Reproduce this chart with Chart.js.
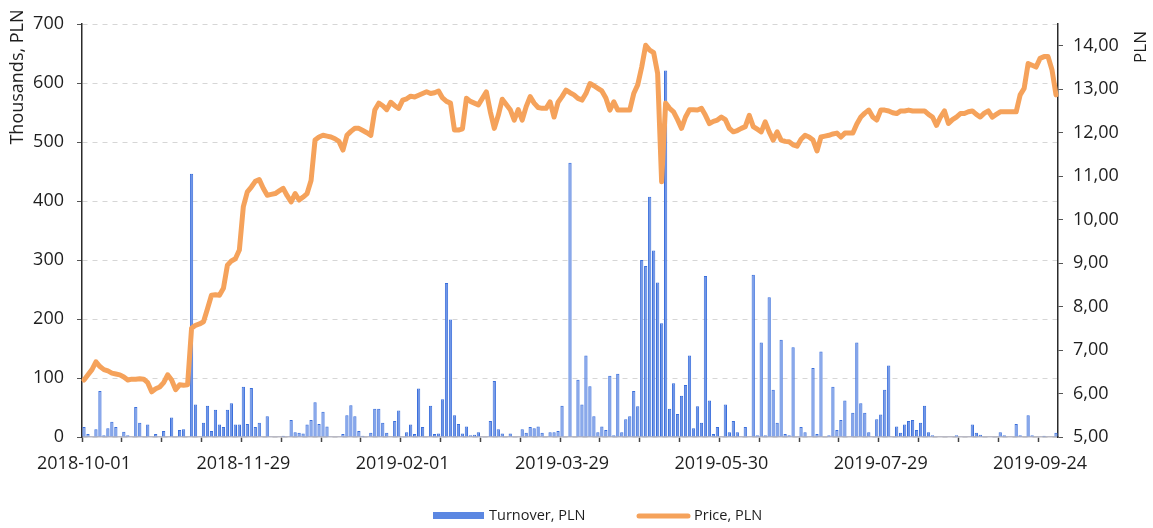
<!DOCTYPE html>
<html>
<head>
<meta charset="utf-8">
<script src="https://cdn.jsdelivr.net/npm/chart.js@4.4.1/dist/chart.umd.min.js"></script>
<style>
  html, body { margin: 0; padding: 0; background: #ffffff; }
  #wrap { width: 1153px; height: 528px; }
</style>
</head>
<body>
<div id="wrap"><canvas id="c" width="1153" height="528"></canvas></div>
<script>
// ---- data ----
const tickLabels = ['2018-10-01','2018-11-29','2019-02-01','2019-03-29','2019-05-30','2019-07-29','2019-09-24'];
const tickEvery = 40;

// Turnover, thousands PLN (one value per trading session)
const turnover = [17,5,0,13,78,3,15,26,17,0,
 9,3,0,51,24,0,21,0,5,
 0,10,0,33,0,12,13,0,446,55,
 0,24,53,10,46,21,17,46,57,21,
 21,85,22,83,17,24,1,35,0,0,
 0,2,0,29,8,7,6,21,29,
 59,22,43,18,0,0,0,5,37,54,
 35,10,2,0,7,48,48,24,7,0,
 27,45,0,8,21,5,82,17,0,53,
 5,6,64,261,199,37,22,6,18,3,
 4,8,1,0,27,95,13,6,0,
 6,0,1,13,7,17,15,18,7,0,
 8,8,10,53,0,465,0,97,55,138,
 86,35,8,18,12,104,3,107,8,30,
 35,78,52,300,290,407,316,262,193,
 621,48,91,39,70,88,138,15,52,24,
 273,62,5,17,0,55,8,27,8,0,
 17,0,275,3,160,3,237,80,24,165,
 5,3,152,0,17,8,0,117,5,
 145,0,3,85,12,29,62,0,41,160,
 57,41,8,0,30,38,80,121,0,18,
 7,21,27,29,12,24,53,8,3,0,
 0,0,0,0,3,0,0,1,21,
 7,4,1,0,0,0,8,3,0,0,
 22,3,0,37,3,0,0,2,0,0,7];

// Price, PLN
const price = [6.31,6.43,6.55,6.73,6.62,6.55,6.52,6.47,6.45,6.43,
 6.38,6.31,6.33,6.33,6.34,6.33,6.25,6.04,6.11,
 6.15,6.25,6.43,6.31,6.09,6.20,6.19,6.20,7.50,7.57,
 7.60,7.65,7.95,8.26,8.27,8.26,8.42,8.95,9.05,9.10,
 9.30,10.30,10.64,10.75,10.88,10.92,10.72,10.56,10.58,10.60,
 10.66,10.72,10.55,10.41,10.60,10.45,10.52,10.60,10.90,
 11.83,11.90,11.94,11.92,11.90,11.86,11.80,11.60,11.94,12.03,
 12.10,12.10,12.05,12.00,11.94,12.52,12.68,12.62,12.53,12.70,
 12.62,12.56,12.75,12.78,12.84,12.82,12.86,12.90,12.94,12.90,
 12.92,12.96,12.80,12.72,12.68,12.06,12.06,12.09,12.79,12.72,
 12.68,12.64,12.79,12.94,12.48,12.10,12.40,12.77,12.65,
 12.53,12.29,12.53,12.29,12.60,12.83,12.68,12.58,12.56,12.56,
 12.71,12.36,12.70,12.83,12.98,12.92,12.87,12.79,12.75,12.90,
 13.13,13.08,13.02,12.96,12.80,12.52,12.71,12.52,12.52,12.52,
 12.52,12.90,13.10,13.51,14.01,13.90,13.84,13.36,10.87,
 12.68,12.56,12.48,12.30,12.10,12.36,12.53,12.53,12.52,12.56,
 12.40,12.21,12.26,12.29,12.36,12.30,12.10,12.02,12.05,12.10,
 12.14,12.40,12.14,12.08,12.02,12.25,12.02,11.83,12.02,11.83,
 11.80,11.79,11.72,11.69,11.85,11.94,11.90,11.83,11.58,
 11.90,11.92,11.94,11.97,11.99,11.90,11.99,11.99,11.99,12.20,
 12.36,12.45,12.52,12.36,12.29,12.52,12.52,12.50,12.46,12.44,
 12.50,12.50,12.52,12.50,12.50,12.50,12.50,12.42,12.36,12.17,
 12.36,12.50,12.21,12.30,12.36,12.44,12.44,12.48,12.50,
 12.42,12.36,12.45,12.50,12.36,12.42,12.48,12.48,12.48,12.48,
 12.48,12.87,13.02,13.59,13.55,13.51,13.71,13.75,13.75,13.44,12.87];

const categories = price.map((_, i) => {
  const k = i / tickEvery;
  return (Number.isInteger(k) && tickLabels[k]) ? tickLabels[k] : 'session ' + (i + 1);
});

// ---- styling ----
const FONT = '"Open Sans", "DejaVu Sans", sans-serif';
const TEXT = '#1e1e1e';
const BLUE = '#3a6fdc';
const BLUE_FILL = '#7196e6';
const ORANGE = '#f5a25b';

const CHART_LEFT = 82, CHART_RIGHT = 1058, CHART_TOP = 24, CHART_BOTTOM = 437;

const decor = {
  id: 'decor',
  afterDraw(chart) {
    const ctx = chart.ctx;
    ctx.save();
    ctx.fillStyle = TEXT;
    ctx.font = '18px ' + FONT;
    ctx.textAlign = 'center';
    ctx.textBaseline = 'middle';
    // left axis title
    ctx.save();
    ctx.translate(18, 77);
    ctx.rotate(-Math.PI / 2);
    ctx.fillText('Thousands, PLN', 0, 0);
    ctx.restore();
    // right axis title
    ctx.save();
    ctx.font = '17px ' + FONT;
    ctx.translate(1141, 47);
    ctx.rotate(-Math.PI / 2);
    ctx.fillText('PLN', 0, 0);
    ctx.restore();
    // legend
    ctx.font = '14.5px ' + FONT;
    ctx.textAlign = 'left';
    ctx.fillStyle = '#5b87e2';
    ctx.fillRect(433, 512, 51, 7);
    ctx.fillStyle = TEXT;
    ctx.fillText('Turnover, PLN', 489, 516);
    ctx.strokeStyle = ORANGE;
    ctx.lineWidth = 5;
    ctx.lineCap = 'round';
    ctx.beginPath();
    ctx.moveTo(639, 516);
    ctx.lineTo(688, 516);
    ctx.stroke();
    ctx.fillStyle = TEXT;
    ctx.fillText('Price, PLN', 694, 516);
    ctx.restore();
  }
};

new Chart(document.getElementById('c'), {
  type: 'bar',
  data: {
    labels: categories,
    datasets: [
      {
        type: 'line',
        label: 'Price, PLN',
        data: price,
        yAxisID: 'y1',
        borderColor: ORANGE,
        backgroundColor: ORANGE,
        borderWidth: 5,
        pointRadius: 0,
        tension: 0,
        borderJoinStyle: 'round',
        borderCapStyle: 'round',
        order: 0
      },
      {
        type: 'bar',
        label: 'Turnover, PLN',
        data: turnover,
        yAxisID: 'y',
        backgroundColor: BLUE_FILL,
        borderColor: BLUE,
        borderWidth: 1,
        borderSkipped: 'bottom',
        barPercentage: 0.82,
        categoryPercentage: 1.0,
        order: 1
      }
    ]
  },
  options: {
    responsive: false,
    animation: false,
    devicePixelRatio: 1,
    layout: { padding: { top: CHART_TOP, left: 0, right: 0, bottom: 0 } },
    plugins: {
      legend: { display: false },
      tooltip: { enabled: false },
      title: { display: false }
    },
    scales: {
      x: {
        type: 'category',
        offset: true,
        grid: {
          display: true,
          offset: true,
          drawOnChartArea: false,
          drawTicks: true,
          tickLength: 5,
          tickWidth: 1.5,
          tickColor: (c) => (c.index % 10 === 0 ? '#444444' : 'rgba(0,0,0,0)'),
          color: 'rgba(0,0,0,0)'
        },
        border: { display: true, color: '#b9b9c4', width: 1.5 },
        ticks: {
          autoSkip: false,
          maxRotation: 0,
          minRotation: 0,
          padding: 11,
          color: TEXT,
          font: { family: FONT, size: 18 },
          callback: (v, i) => {
            const k = i / tickEvery;
            return (Number.isInteger(k) && tickLabels[k]) ? tickLabels[k] : '';
          }
        },
        afterFit: (s) => { s.height = 528 - CHART_BOTTOM; }
      },
      y: {
        position: 'left',
        min: 0,
        max: 700,
        ticks: {
          stepSize: 100,
          padding: 13,
          color: TEXT,
          font: { family: FONT, size: 18 }
        },
        grid: {
          drawOnChartArea: true,
          color: '#d6d6d6',
          tickColor: '#555555',
          tickLength: 5,
          tickBorderDash: [],
          borderDash: [5, 5]
        },
        border: { display: true, color: '#2b2b2b', width: 1.5, dash: [5, 5] },
        afterFit: (s) => { s.width = CHART_LEFT; }
      },
      y1: {
        position: 'right',
        min: 5,
        max: 14.5,
        ticks: {
          stepSize: 1,
          includeBounds: false,
          padding: 10,
          color: TEXT,
          font: { family: FONT, size: 18 },
          callback: (v) => Number(v).toFixed(2).replace('.', ',')
        },
        grid: {
          drawOnChartArea: false,
          tickColor: '#555555',
          tickLength: 5
        },
        border: { display: true, color: '#2b2b2b', width: 1.5 },
        afterFit: (s) => { s.width = 1153 - CHART_RIGHT; }
      }
    }
  },
  plugins: [decor]
});
</script>
</body>
</html>
